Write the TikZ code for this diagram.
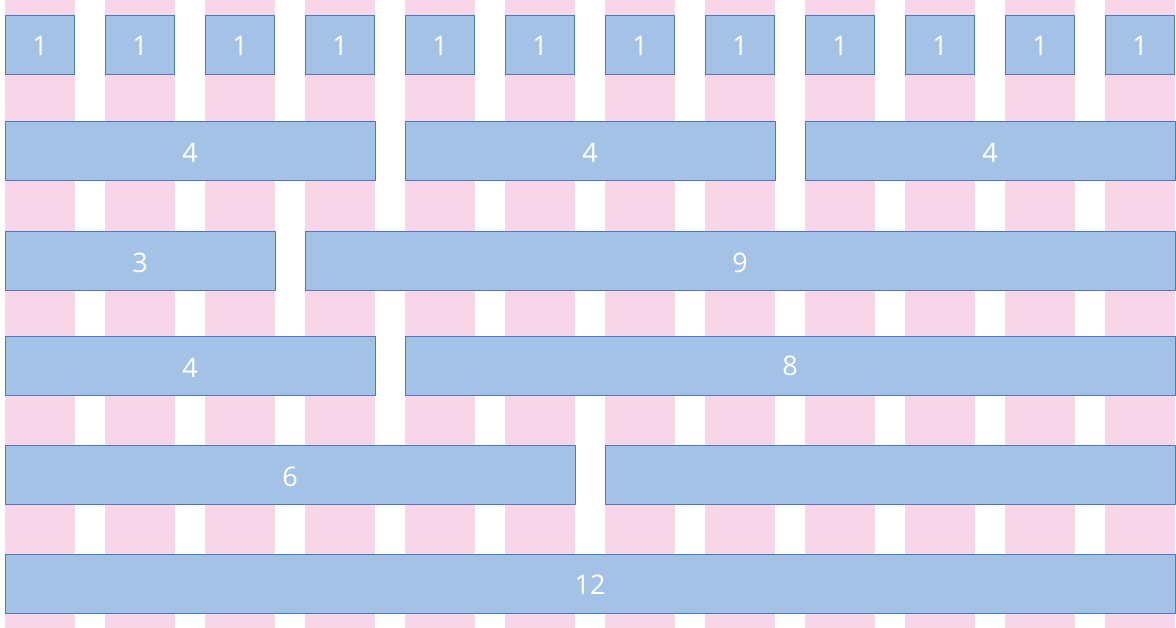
\documentclass[tikz,border=0pt]{standalone}
\usepackage{fontspec}
\setmainfont{Open Sans}
\definecolor{pinkcol}{HTML}{F8D5E7}
\definecolor{bluefill}{HTML}{A4C2E5}
\definecolor{blueline}{HTML}{4E78C4}
\tikzset{
  colstripe/.style={fill=pinkcol, draw=none},
  cell/.style={fill=bluefill, draw=blueline, line width=1pt},
  lbl/.style={text=white, font=\fontsize{27}{27}\selectfont, inner sep=0pt}
}
\begin{document}
\begin{tikzpicture}[x=1pt,y=-1pt]
\useasboundingbox (0,0) rectangle (1176,628);
\fill[white] (0,0) rectangle (1176,628);
% pink columns
\foreach \i in {0,...,11} {
  \fill[colstripe] ({5+100*\i},0) rectangle ({75+100*\i},628);
}
% row 1
\foreach \i in {0,...,11} {
  \draw[cell] ({5+100*\i},16) rectangle ({74.5+100*\i},75);
  \node[lbl] (r1c\i) at ({40+100*\i},46) {1};
}
% row 2
\draw[cell] (5,122) rectangle (375,181);
\node[lbl] (r2a) at (190,153) {4};
\draw[cell] (405,122) rectangle (775,181);
\node[lbl] (r2b) at (590,153) {4};
\draw[cell] (805,122) rectangle (1175,181);
\node[lbl] (r2c) at (990,153) {4};
% row 3
\draw[cell] (5,232) rectangle (275,291);
\node[lbl] (r3a) at (140,263) {3};
\draw[cell] (305,232) rectangle (1175,291);
\node[lbl] (r3b) at (740,263) {9};
% row 4
\draw[cell] (5,337) rectangle (375,396);
\node[lbl] (r4a) at (190,368) {4};
\draw[cell] (405,337) rectangle (1175,396);
\node[lbl] (r4b) at (790,366) {8};
% row 5
\draw[cell] (5,445) rectangle (575,504);
\node[lbl] (r5a) at (290,477) {6};
\draw[cell] (605,445) rectangle (1175,504);
% row 6
\draw[cell] (5,554) rectangle (1175,613);
\node[lbl] (r6a) at (590,585) {12};
\end{tikzpicture}
\end{document}
